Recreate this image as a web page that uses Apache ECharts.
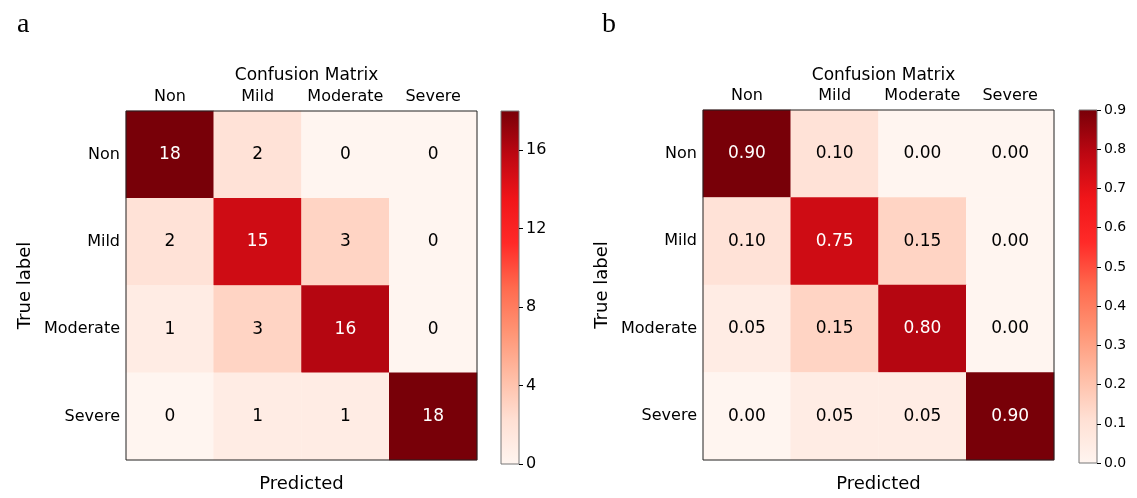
<!DOCTYPE html>
<html>
<head>
<meta charset="utf-8">
<script src="https://cdn.jsdelivr.net/npm/echarts@6/dist/echarts.min.js"></script>
<style>
  html, body { margin: 0; padding: 0; background: #fff; }
  #chart { width: 1137px; height: 498px; }
</style>
</head>
<body>
<div id="chart"></div>
<script>
const classes = ['Non', 'Mild', 'Moderate', 'Severe']

// rows = true label, cols = predicted
const countsA = [
    [18, 2, 0, 0],
    [2, 15, 3, 0],
    [1, 3, 16, 0],
    [0, 1, 1, 18]
]
const ratesB = [
    [0.90, 0.10, 0.00, 0.00],
    [0.10, 0.75, 0.15, 0.00],
    [0.05, 0.15, 0.80, 0.00],
    [0.00, 0.05, 0.05, 0.90]
]
const cbarMaxA = 18
const cbarMaxB = 0.9

// "Reds"-like ramp, as it appears in the picture (a bit more saturated)
const reds = ['#fff5f0', '#ffe0d4', '#ffbca4', '#ff9474', '#ff6a4e', '#ff2a28', '#f01519', '#bd0712', '#780008']

const font = 'DejaVu Sans'

function toData(mat, vmax, digits) {
    const out = []
    mat.forEach((row, r) => {
        row.forEach((v, c) => {
            out.push({
                value: [c, r, v],
                label: {
                    formatter: digits ? v.toFixed(digits) : String(v),
                    color: v > vmax / 2 ? '#fff' : '#000'
                }
            })
        })
    })
    return out
}

// colorbar fill, bottom (0) to top (max)
const cbarGradient = new echarts.graphic.LinearGradient(0, 1, 0, 0,
    reds.map((c, k) => ({ offset: k / (reds.length - 1), color: c })))

const panels = [
    { left: 126, top: 111, cbLeft: 501, max: cbarMaxA, interval: 4, data: toData(countsA, cbarMaxA, 0), cbFont: 16, dec: 0, showMax: false },
    { left: 703, top: 110, cbLeft: 1079, max: cbarMaxB, interval: 0.1, data: toData(ratesB, cbarMaxB, 2), cbFont: 14, dec: 1, showMax: true }
]
const W = 351, H = 353, CBW = 18

const grid = [], xAxis = [], yAxis = [], series = [], visualMap = [], title = []

panels.forEach((p, i) => {
    const g = grid.length
    // heatmap grid
    grid.push({ left: p.left, top: p.top, width: W, height: H, show: true, borderColor: '#222', borderWidth: 1, backgroundColor: 'transparent', z: 10 })
    // colorbar grid
    grid.push({ left: p.cbLeft, top: p.top, width: CBW, height: H, show: true, borderColor: '#777', borderWidth: 1, backgroundColor: cbarGradient })

    xAxis.push({
        type: 'category', data: classes, gridIndex: g, position: 'top',
        axisLine: { show: false },
        axisTick: { alignWithLabel: true, length: 5, lineStyle: { color: '#000' } },
        axisLabel: { interval: 0, fontFamily: font, fontSize: 16, color: '#000', margin: 6 },
        splitLine: { show: false }
    })
    xAxis.push({
        type: 'category', data: classes, gridIndex: g, position: 'bottom',
        axisLine: { show: false },
        axisTick: { alignWithLabel: true, length: 5, lineStyle: { color: '#000' } },
        axisLabel: { show: false },
        name: 'Predicted', nameLocation: 'middle', nameGap: 15,
        nameTextStyle: { fontFamily: font, fontSize: 18, color: '#000' }
    })
    xAxis.push({ type: 'value', gridIndex: g + 1, show: false, min: 0, max: 1 })

    yAxis.push({
        type: 'category', data: classes, gridIndex: g, inverse: true,
        axisLine: { show: false },
        axisTick: { alignWithLabel: true, length: 5, lineStyle: { color: '#000' } },
        axisLabel: { interval: 0, fontFamily: font, fontSize: 16, color: '#000', margin: 6 },
        name: 'True label', nameLocation: 'middle', nameGap: 92, nameRotate: 90,
        nameTextStyle: { fontFamily: font, fontSize: 18, color: '#000' }
    })
    yAxis.push({
        type: 'value', gridIndex: g + 1, position: 'right', min: 0, max: p.max, interval: p.interval,
        axisLine: { show: false, onZero: false },
        axisTick: { show: true, inside: false, length: 4, lineStyle: { color: '#000' } },
        axisLabel: { fontFamily: font, fontSize: p.cbFont, color: '#000', margin: 7, showMaxLabel: p.showMax,
            formatter: v => v.toFixed(p.dec) },
        splitLine: { show: false }
    })

    series.push({
        type: 'heatmap', xAxisIndex: i * 3, yAxisIndex: i * 2, data: p.data,
        label: { show: true, fontFamily: font, fontSize: 17 },
        itemStyle: { borderWidth: 0 },
        emphasis: { disabled: true }
    })

    visualMap.push({
        type: 'continuous', seriesIndex: i, dimension: 2, min: 0, max: p.max,
        show: false, inRange: { color: reds }
    })

    title.push({
        text: 'Confusion Matrix', left: p.left + W / 2, top: 62, textAlign: 'center',
        textStyle: { fontFamily: font, fontSize: 17, fontWeight: 'normal', color: '#000' }
    })
})

title.push({ text: 'a', left: 12, top: 6, textStyle: { fontFamily: 'Liberation Serif', fontSize: 28, fontWeight: 'normal', color: '#000' } })
title.push({ text: 'b', left: 597, top: 6, textStyle: { fontFamily: 'Liberation Serif', fontSize: 28, fontWeight: 'normal', color: '#000' } })

const chart = echarts.init(document.getElementById('chart'))
chart.setOption({
    animation: false,
    backgroundColor: '#fff',
    title, grid, xAxis, yAxis, series, visualMap
})
</script>
</body>
</html>
